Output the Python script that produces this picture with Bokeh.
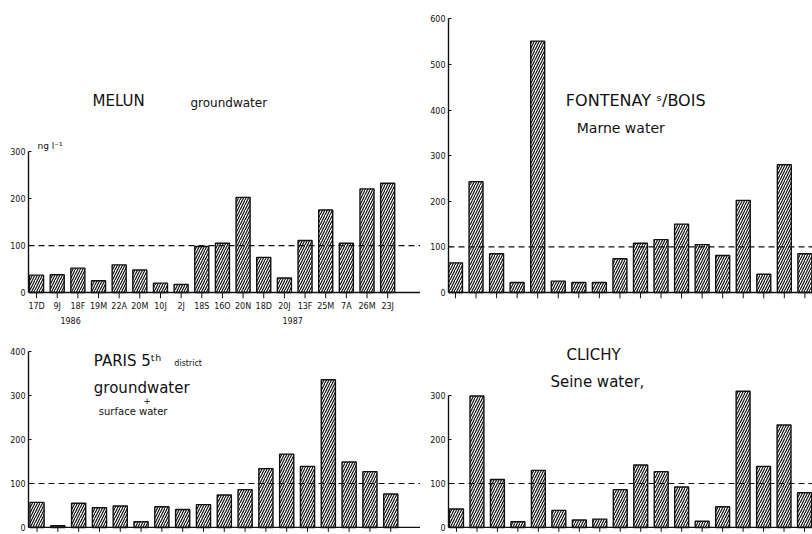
from bokeh.plotting import figure
from bokeh.models import FixedTicker, Span, Label, LinearAxis, Range1d
from bokeh.layouts import column, row
from bokeh.embed import file_html
from bokeh.resources import INLINE

# ---- data (ng l-1) ----
dates = ["17D", "9J", "18F", "19M", "22A", "20M", "10J", "2J", "18S",
         "16O", "20N", "18D", "20J", "13F", "25M", "7A", "26M", "23J"]
years = ["1986", "1987"]
year_pos = [1.65, 12.4]
melun = [37, 38, 52, 25, 59, 48, 20, 17, 98, 105, 203, 75, 31, 111, 176, 105, 221, 233]
fontenay = [65, 243, 85, 22, 551, 25, 22, 22, 74, 108, 116, 150, 105, 81, 202, 40, 280, 85]
paris = [57, 4, 55, 45, 49, 13, 47, 41, 52, 74, 86, 134, 167, 139, 336, 149, 127, 76]
clichy = [42, 299, 109, 13, 130, 39, 17, 19, 86, 142, 127, 92, 14, 47, 310, 139, 233, 79]
limit = 100

INK = "#111111"
FONT = "DejaVu Sans"


def panel(values, xr, yr, tick_end, width, height, left, bottom, axis_top, yticks):
    idx = list(range(len(values)))
    p = figure(width=width, height=height, x_range=Range1d(*xr), y_range=Range1d(*yr),
               output_backend="svg", toolbar_location=None,
               min_border_left=left, min_border_right=0, min_border_top=0,
               min_border_bottom=bottom)
    p.outline_line_color = None
    p.xgrid.visible = False
    p.ygrid.visible = False
    p.background_fill_color = "white"
    p.border_fill_color = "white"

    p.vbar(x=idx, top=values, bottom=0, width=0.68, fill_color="white",
           line_color=INK, line_width=1.4, hatch_pattern="/", hatch_scale=5,
           hatch_weight=1.2, hatch_color=INK)

    p.add_layout(Span(location=limit, dimension="width", line_dash="6 4",
                      line_color=INK, line_width=1.2))
    # baseline and small ticks below each bar
    p.add_layout(Span(location=0, dimension="width", line_color=INK, line_width=1.3))
    p.segment(x0=idx, y0=[0] * len(idx), x1=idx, y1=[tick_end] * len(idx),
              line_color=INK, line_width=1)

    ya = p.yaxis[0]
    ya.ticker = FixedTicker(ticks=yticks)
    ya.bounds = (0, axis_top)
    ya.axis_line_color = INK
    ya.axis_line_width = 1.4
    ya.major_tick_in = 3
    ya.major_tick_out = 0
    ya.major_tick_line_color = INK
    ya.minor_tick_line_color = None
    ya.major_label_text_font = FONT
    ya.major_label_text_font_size = "8px"
    ya.major_label_text_color = INK
    ya.major_label_standoff = 3

    p.xaxis.visible = False
    return p


def lab(p, x, y, text, size, align="left"):
    p.add_layout(Label(x=x, y=y, text=text, text_font=FONT, text_font_size=size,
                       text_color=INK, text_baseline="middle", text_align=align))


# MELUN
p1 = panel(melun, (-0.39, 18.59), (-12.8, 623), -12.8, 420, 338, 28, 40, 300,
           [0, 100, 200, 300])
date_axis = LinearAxis(ticker=FixedTicker(ticks=list(range(len(dates)))),
                       major_label_overrides={i: d for i, d in enumerate(dates)},
                       axis_line_color=None, major_tick_line_color=None,
                       minor_tick_line_color=None, major_tick_in=0, major_tick_out=0,
                       major_label_standoff=3, major_label_text_font_size="8px",
                       major_label_text_font=FONT, major_label_text_color=INK)
p1.add_layout(date_axis, "below")
year_axis = LinearAxis(ticker=FixedTicker(ticks=year_pos),
                       major_label_overrides={year_pos[0]: years[0], year_pos[1]: years[1]},
                       axis_line_color=None, major_tick_line_color=None,
                       minor_tick_line_color=None, major_tick_in=0, major_tick_out=0,
                       major_label_standoff=3, major_label_text_font_size="8px",
                       major_label_text_font=FONT, major_label_text_color=INK)
p1.add_layout(year_axis, "below")
lab(p1, 2.71, 408, "MELUN", "15px")
lab(p1, 7.45, 404, "groundwater", "12px")
lab(p1, 0.05, 313, "ng l⁻¹", "9px")

# FONTENAY
p2 = panel(fontenay, (-0.34, 17.37), (-13.1, 640), -13.1, 392, 338, 28, 40, 600,
           [0, 100, 200, 300, 400, 500, 600])
lab(p2, 5.37, 421, "FONTENAY ˢ/BOIS", "16px")
lab(p2, 5.9, 360, "Marne water", "14px")

# PARIS 5th district
p3 = panel(paris, (-0.41, 18.43), (-16, 430), -10, 420, 196, 28, 0, 400,
           [0, 100, 200, 300, 400])
lab(p3, 2.73, 378, "PARIS 5ᵗʰ", "15px")
lab(p3, 6.6, 373, "district", "8px")
lab(p3, 2.73, 317, "groundwater", "15px")
lab(p3, 5.29, 290, "+", "9px", "center")
lab(p3, 2.97, 264, "surface water", "10px")

# CLICHY
p4 = panel(clichy, (-0.39, 17.39), (-16, 430), -10, 392, 196, 28, 0, 300,
           [0, 100, 200, 300])
lab(p4, 5.37, 392, "CLICHY", "15px")
lab(p4, 4.59, 330, "Seine water,", "15px")

layout = column(row(p1, p2), row(p3, p4))
open("out.html", "w").write(file_html(layout, INLINE))
